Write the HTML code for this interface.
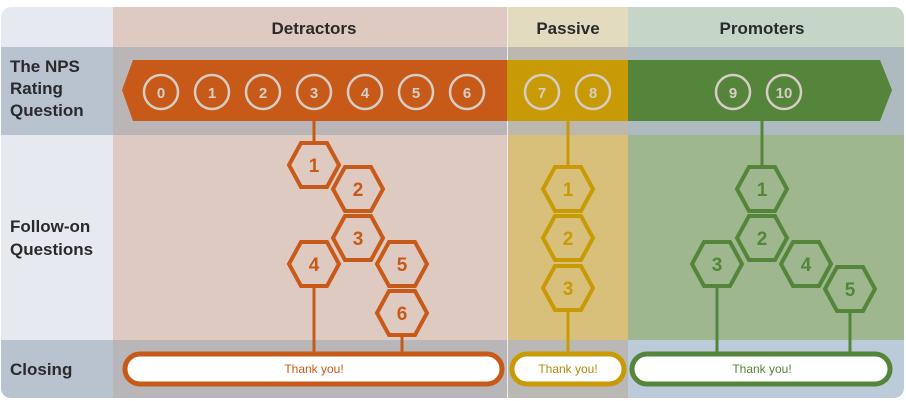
<!DOCTYPE html>
<html><head><meta charset="utf-8"><style>
html,body{margin:0;padding:0;background:#fff;}
svg{display:block;font-family:"Liberation Sans","DejaVu Sans",sans-serif;}
</style></head><body>
<svg width="906" height="401" viewBox="0 0 906 401" xmlns="http://www.w3.org/2000/svg">
<defs>
<clipPath id="c"><rect x="1" y="7" width="903" height="391" rx="10"/></clipPath>
<polygon id="hx" points="-25,0 -13,-22 13,-22 25,0 13,22 -13,22"/>
</defs>
<g clip-path="url(#c)">
<rect x="0" y="7" width="113" height="391" fill="#e6eaf0"/>
<rect x="113" y="7" width="394" height="391" fill="#dfcac1"/>
<rect x="507" y="7" width="121" height="40" fill="#e3dbc0"/>
<rect x="507" y="135" width="121" height="205" fill="#d9c07a"/>
<rect x="628" y="7" width="277" height="40" fill="#c5d6c9"/>
<rect x="628" y="135" width="277" height="205" fill="#9fb78e"/>
<rect x="0" y="47" width="113" height="88" fill="#b9c2cf"/>
<rect x="113" y="47" width="394" height="88" fill="#bab5b6"/>
<rect x="507" y="47" width="121" height="88" fill="#bdb8ad"/>
<rect x="628" y="47" width="277" height="88" fill="#adbac0"/>
<rect x="0" y="340" width="113" height="60" fill="#b9c2cf"/>
<rect x="113" y="340" width="394" height="60" fill="#b8b6b9"/>
<rect x="507" y="340" width="121" height="60" fill="#bab8b5"/>
<rect x="628" y="340" width="277" height="60" fill="#bccbd9"/>
<line x1="507.5" y1="7" x2="507.5" y2="398" stroke="#eee" stroke-width="1"/>
</g>
<g font-weight="bold" font-size="17" fill="#2a2a2a">
<text x="314" y="34" text-anchor="middle">Detractors</text>
<text x="568" y="34" text-anchor="middle">Passive</text>
<text x="762" y="34" text-anchor="middle">Promoters</text>
<text x="10" y="72">The NPS</text><text x="10" y="94">Rating</text><text x="10" y="116">Question</text>
<text x="10" y="232">Follow-on</text><text x="10" y="255">Questions</text>
<text x="10" y="375">Closing</text>
</g>
<polygon points="122,90 133,60 507,60 507,121 133,121" fill="#c85a19"/>
<rect x="507" y="60" width="121" height="61" fill="#c89a06"/>
<polygon points="628,60 880,60 892,90 880,121 628,121" fill="#55853a"/>
<g fill="none" stroke="#d6cdc6" stroke-width="2.5">
<circle cx="161" cy="92" r="17"/><circle cx="212" cy="92" r="17"/><circle cx="263" cy="92" r="17"/><circle cx="314" cy="92" r="17"/><circle cx="365" cy="92" r="17"/><circle cx="416" cy="92" r="17"/><circle cx="467" cy="92" r="17"/>
<circle cx="542" cy="92" r="17"/><circle cx="593" cy="92" r="17"/><circle cx="733" cy="92" r="17"/><circle cx="784" cy="92" r="17"/>
</g>
<g fill="#d6cdc6" font-size="15" font-weight="bold" text-anchor="middle">
<text x="161" y="98">0</text><text x="212" y="98">1</text><text x="263" y="98">2</text><text x="314" y="98">3</text><text x="365" y="98">4</text><text x="416" y="98">5</text><text x="467" y="98">6</text>
<text x="542" y="98">7</text><text x="593" y="98">8</text><text x="733" y="98">9</text><text x="784" y="98">10</text>
</g>
<g stroke-width="3" fill="none">
<path d="M314 121V143M314 286V355M402 335V355" stroke="#c85a19"/>
<path d="M568 121V167M568 310V355" stroke="#c89a06"/>
<path d="M762 121V167M717 286V355M850 311V355" stroke="#55853a"/>
</g>
<g stroke="#c85a19" stroke-width="4" fill="none">
<use href="#hx" x="314" y="165"/><use href="#hx" x="358" y="189"/><use href="#hx" x="358" y="238"/><use href="#hx" x="314" y="264"/><use href="#hx" x="402" y="264"/><use href="#hx" x="402" y="313"/>
</g>
<g stroke="#c89a06" stroke-width="4" fill="none">
<use href="#hx" x="568" y="189"/><use href="#hx" x="568" y="238"/><use href="#hx" x="568" y="288"/>
</g>
<g stroke="#55853a" stroke-width="4" fill="none">
<use href="#hx" x="762" y="189"/><use href="#hx" x="762" y="238"/><use href="#hx" x="717" y="264"/><use href="#hx" x="806" y="264"/><use href="#hx" x="850" y="289"/>
</g>
<g font-size="19" font-weight="bold" text-anchor="middle">
<g fill="#c85a19"><text x="314" y="172">1</text><text x="358" y="196">2</text><text x="358" y="245">3</text><text x="314" y="271">4</text><text x="402" y="271">5</text><text x="402" y="320">6</text></g>
<g fill="#c89a06"><text x="568" y="196">1</text><text x="568" y="245">2</text><text x="568" y="295">3</text></g>
<g fill="#55853a"><text x="762" y="196">1</text><text x="762" y="245">2</text><text x="717" y="271">3</text><text x="806" y="271">4</text><text x="850" y="296">5</text></g>
</g>
<rect x="125" y="354" width="377" height="30" rx="15" fill="#fff" stroke="#c85a19" stroke-width="5"/>
<rect x="512" y="354" width="112" height="30" rx="15" fill="#fff" stroke="#c89a06" stroke-width="5"/>
<rect x="632" y="354" width="258" height="30" rx="15" fill="#fff" stroke="#55853a" stroke-width="5"/>
<g font-size="12" text-anchor="middle">
<text x="314" y="373" fill="#c85a19">Thank you!</text>
<text x="568" y="373" fill="#b08a06">Thank you!</text>
<text x="762" y="373" fill="#55853a">Thank you!</text>
</g>
</svg>
</body></html>
